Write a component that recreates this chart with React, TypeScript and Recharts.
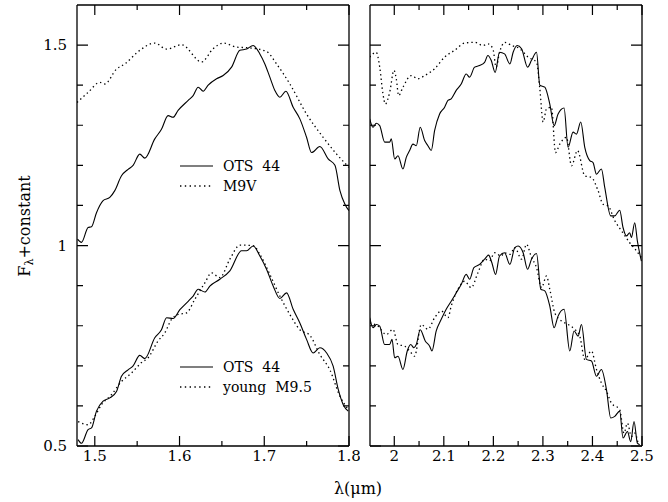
import React from "react";
import { LineChart, Line, XAxis, YAxis } from "recharts";

// H band, OTS 44 (upper copy) and M9V
const hTopOtsWave = [1.4796, 1.4843, 1.4921, 1.4961, 1.502, 1.5098, 1.5177, 1.5236, 1.5315, 1.5393, 1.5452, 1.5531, 1.559, 1.5708, 1.5787, 1.5865, 1.5924, 1.5983, 1.6102, 1.6161, 1.622, 1.6279, 1.6338, 1.6437, 1.6515, 1.6614, 1.6712, 1.6791, 1.6869, 1.6948, 1.7007, 1.7066, 1.7125, 1.7184, 1.7255, 1.7341, 1.742, 1.7499, 1.7558, 1.7656, 1.7754, 1.7834, 1.7893, 1.7952, 1.7999];
const hTopOtsFlux = [1.016, 1.008, 1.045, 1.047, 1.082, 1.112, 1.12, 1.137, 1.174, 1.19, 1.2, 1.228, 1.218, 1.266, 1.29, 1.324, 1.32, 1.337, 1.362, 1.374, 1.395, 1.385, 1.4, 1.416, 1.424, 1.445, 1.487, 1.49, 1.499, 1.478, 1.453, 1.42, 1.387, 1.37, 1.385, 1.345, 1.316, 1.27, 1.232, 1.247, 1.216, 1.2, 1.137, 1.103, 1.087];
const hM9vWave = [1.479, 1.4921, 1.5059, 1.5118, 1.5256, 1.5354, 1.5531, 1.5708, 1.5847, 1.6024, 1.626, 1.6397, 1.6515, 1.6673, 1.683, 1.7027, 1.7145, 1.7302, 1.7499, 1.7695, 1.7854, 1.7999];
const hM9vFlux = [1.357, 1.382, 1.407, 1.403, 1.44, 1.453, 1.487, 1.505, 1.49, 1.501, 1.458, 1.491, 1.505, 1.495, 1.493, 1.484, 1.453, 1.403, 1.328, 1.27, 1.228, 1.195];

// H band, OTS 44 (lower copy) and young M9.5
const hLowOtsWave = [1.4803, 1.4843, 1.4921, 1.4961, 1.502, 1.5098, 1.5177, 1.5256, 1.5315, 1.5393, 1.5452, 1.5531, 1.559, 1.5708, 1.5787, 1.5847, 1.5924, 1.6004, 1.6102, 1.6161, 1.622, 1.6299, 1.6358, 1.6476, 1.6594, 1.6732, 1.6791, 1.6869, 1.6948, 1.7027, 1.7105, 1.7184, 1.7263, 1.7341, 1.742, 1.7499, 1.7577, 1.7656, 1.7736, 1.7813, 1.7873, 1.7932, 1.7991];
const hLowOtsFlux = [0.516, 0.507, 0.541, 0.545, 0.587, 0.612, 0.62, 0.636, 0.674, 0.69, 0.7, 0.726, 0.718, 0.77, 0.79, 0.82, 0.818, 0.84, 0.861, 0.874, 0.891, 0.884, 0.899, 0.916, 0.937, 0.987, 0.987, 0.999, 0.974, 0.941, 0.899, 0.868, 0.882, 0.841, 0.807, 0.766, 0.732, 0.745, 0.732, 0.699, 0.641, 0.603, 0.587];
const hYoungWave = [1.4803, 1.4921, 1.5, 1.5079, 1.5197, 1.5315, 1.5433, 1.5551, 1.5629, 1.5747, 1.5826, 1.5906, 1.5983, 1.6083, 1.6181, 1.6299, 1.6378, 1.6476, 1.6594, 1.6712, 1.6869, 1.6948, 1.7066, 1.7184, 1.7302, 1.742, 1.7538, 1.7656, 1.7774, 1.7893, 1.7991];
const hYoungFlux = [0.561, 0.553, 0.574, 0.603, 0.628, 0.661, 0.682, 0.708, 0.72, 0.762, 0.782, 0.816, 0.828, 0.832, 0.866, 0.907, 0.932, 0.92, 0.966, 1.001, 1.0, 0.978, 0.928, 0.874, 0.828, 0.79, 0.776, 0.728, 0.69, 0.624, 0.591];

// K band, OTS 44 (upper copy) and M9V
const kTopOtsWave = [1.9504, 1.9571, 1.9637, 1.9706, 1.9806, 1.9907, 1.994, 2.0008, 2.0075, 2.0175, 2.0242, 2.031, 2.0377, 2.0444, 2.0524, 2.0613, 2.0679, 2.0746, 2.0815, 2.0915, 2.1016, 2.1083, 2.1149, 2.125, 2.1351, 2.1452, 2.152, 2.1621, 2.1722, 2.1823, 2.1889, 2.1956, 2.2036, 2.2125, 2.2226, 2.2333, 2.2399, 2.248, 2.2569, 2.269, 2.277, 2.2871, 2.2938, 2.3038, 2.3139, 2.3226, 2.3306, 2.3427, 2.3508, 2.3609, 2.3677, 2.3764, 2.3845, 2.3946, 2.4012, 2.4081, 2.4181, 2.4248, 2.4369, 2.445, 2.455, 2.4617, 2.4685, 2.4752, 2.4786, 2.4853, 2.4907, 2.4988];
const kTopOtsFlux = [1.316, 1.295, 1.305, 1.299, 1.258, 1.258, 1.266, 1.216, 1.224, 1.191, 1.22, 1.237, 1.253, 1.249, 1.295, 1.262, 1.249, 1.237, 1.287, 1.328, 1.345, 1.362, 1.366, 1.387, 1.403, 1.428, 1.42, 1.445, 1.449, 1.457, 1.474, 1.462, 1.432, 1.482, 1.478, 1.453, 1.482, 1.499, 1.491, 1.445, 1.462, 1.482, 1.4, 1.395, 1.353, 1.299, 1.328, 1.343, 1.245, 1.283, 1.278, 1.308, 1.245, 1.212, 1.207, 1.178, 1.191, 1.145, 1.074, 1.074, 1.088, 1.045, 1.024, 1.032, 1.02, 1.057, 1.011, 0.961];
const kM9vWave = [1.9504, 1.9637, 1.9706, 1.9772, 1.9819, 1.9907, 1.9994, 2.004, 2.0089, 2.0175, 2.0343, 2.0478, 2.0613, 2.0815, 2.1016, 2.1218, 2.1419, 2.1621, 2.1788, 2.1889, 2.199, 2.2056, 2.2125, 2.2232, 2.2367, 2.2534, 2.2702, 2.2871, 2.2938, 2.3004, 2.3073, 2.3173, 2.3254, 2.3341, 2.3476, 2.3577, 2.3698, 2.3845, 2.398, 2.4113, 2.4214, 2.4315, 2.445, 2.4585, 2.4752, 2.4887, 2.4988];
const kM9vFlux = [1.47, 1.482, 1.445, 1.378, 1.353, 1.382, 1.437, 1.416, 1.374, 1.395, 1.424, 1.416, 1.424, 1.441, 1.47, 1.487, 1.505, 1.507, 1.499, 1.503, 1.491, 1.445, 1.482, 1.507, 1.499, 1.491, 1.47, 1.457, 1.391, 1.308, 1.341, 1.345, 1.232, 1.253, 1.27, 1.199, 1.237, 1.174, 1.17, 1.137, 1.103, 1.099, 1.062, 1.037, 1.007, 0.987, 0.97];

// K band, OTS 44 (lower copy) and young M9.5
const kLowOtsWave = [1.9504, 1.9571, 1.9637, 1.9706, 1.9806, 1.9907, 1.9954, 2.0008, 2.0075, 2.0175, 2.0262, 2.0331, 2.0397, 2.0444, 2.0524, 2.0625, 2.0714, 2.076, 2.0847, 2.0948, 2.1048, 2.1149, 2.125, 2.1351, 2.1452, 2.152, 2.1607, 2.1722, 2.1823, 2.1903, 2.197, 2.2044, 2.2125, 2.2226, 2.2333, 2.2433, 2.25, 2.2601, 2.269, 2.277, 2.2871, 2.2958, 2.3038, 2.3139, 2.3226, 2.3306, 2.3427, 2.3542, 2.3629, 2.371, 2.3778, 2.3879, 2.398, 2.4081, 2.4181, 2.4282, 2.4369, 2.445, 2.455, 2.4617, 2.4706, 2.4772, 2.4839, 2.4907, 2.4954];
const kLowOtsFlux = [0.82, 0.795, 0.803, 0.799, 0.753, 0.753, 0.766, 0.72, 0.724, 0.691, 0.737, 0.753, 0.745, 0.753, 0.79, 0.762, 0.749, 0.737, 0.787, 0.816, 0.841, 0.861, 0.882, 0.903, 0.928, 0.916, 0.945, 0.953, 0.966, 0.976, 0.957, 0.928, 0.974, 0.982, 0.953, 0.995, 0.999, 0.982, 0.941, 0.966, 0.98, 0.891, 0.887, 0.849, 0.795, 0.824, 0.841, 0.737, 0.787, 0.774, 0.803, 0.716, 0.712, 0.674, 0.691, 0.641, 0.57, 0.574, 0.587, 0.52, 0.536, 0.511, 0.561, 0.507, 0.503];
const kYoungWave = [1.9504, 1.9671, 1.9839, 1.9974, 2.0075, 2.021, 2.031, 2.0411, 2.0544, 2.0679, 2.0815, 2.0948, 2.1083, 2.1149, 2.1284, 2.1419, 2.1552, 2.1688, 2.1823, 2.1923, 2.2024, 2.2157, 2.2226, 2.2333, 2.2433, 2.2569, 2.2669, 2.277, 2.2871, 2.2972, 2.3073, 2.3139, 2.324, 2.3375, 2.3508, 2.3643, 2.3744, 2.3845, 2.398, 2.4081, 2.4181, 2.4282, 2.4383, 2.455, 2.4637, 2.4706, 2.4786, 2.4853, 2.492];
const kYoungFlux = [0.807, 0.799, 0.778, 0.791, 0.753, 0.749, 0.737, 0.724, 0.803, 0.791, 0.82, 0.837, 0.82, 0.849, 0.891, 0.911, 0.895, 0.932, 0.966, 0.962, 0.982, 0.974, 0.982, 0.978, 0.995, 0.966, 1.003, 0.97, 0.945, 0.895, 0.924, 0.891, 0.832, 0.812, 0.803, 0.791, 0.774, 0.716, 0.737, 0.691, 0.657, 0.637, 0.607, 0.591, 0.532, 0.557, 0.524, 0.532, 0.507];

const hMajor = [1.5, 1.6, 1.7, 1.8];
const hMinor = [1.55, 1.65, 1.75];
const kMajor = [2, 2.1, 2.2, 2.3, 2.4, 2.5];
const kMinor = [2.05, 2.15, 2.25, 2.35, 2.45];
const fluxMajor = [0.5, 1, 1.5];
const fluxMinor = [0.6, 0.7, 0.8, 0.9, 1.1, 1.2, 1.3, 1.4];
const fluxDomain: [number, number] = [0.5, 1.6];
const hDomain: [number, number] = [1.479, 1.8];
const kDomain: [number, number] = [1.951, 2.5];

const FONT = "'DejaVu Serif', serif";
const INK = "#000";

// plot boxes, in page pixels, that the chart margins below produce
const hBox = { left: 77, right: 349, top: 5, bottom: 446 };
const kBox = { left: 370, right: 642, top: 5, bottom: 446 };

const pts = (w: number[], f: number[]) => w.map((x, i) => ({ x, y: f[i] }));

function BottomLabel({ x, y, payload }: any) {
  return (
    <text x={x} y={y + 15} textAnchor="middle" fontFamily={FONT} fontSize={15} fill={INK}>
      {String(payload.value)}
    </text>
  );
}

function LeftLabel({ x, y, payload }: any) {
  return (
    <text x={x - 10} y={y + 5} textAnchor="end" fontFamily={FONT} fontSize={15} fill={INK}>
      {String(payload.value)}
    </text>
  );
}

const frame = { stroke: INK, strokeWidth: 1.3 };

type PanelProps = {
  domain: [number, number];
  major: number[];
  yLabels: boolean;
  width: number;
  margin: { top: number; right: number; bottom: number; left: number };
  series: { data: { x: number; y: number }[]; dotted: boolean }[];
};

function Panel({ domain, major, yLabels, width, margin, series }: PanelProps) {
  return (
    <LineChart width={width} height={470} margin={margin}>
      <XAxis
        xAxisId="b"
        dataKey="x"
        type="number"
        domain={domain}
        ticks={major}
        interval={0}
        allowDataOverflow
        height={24}
        tickSize={0}
        tickMargin={0}
        tickLine={false}
        axisLine={frame}
        tick={<BottomLabel />}
      />
      <XAxis xAxisId="t" orientation="top" dataKey="x" type="number" domain={domain} allowDataOverflow height={1} tick={false} tickLine={false} axisLine={frame} />
      <YAxis
        yAxisId="l"
        type="number"
        domain={fluxDomain}
        ticks={fluxMajor}
        interval={0}
        allowDataOverflow
        width={yLabels ? 77 : 1}
        tickSize={0}
        tickMargin={0}
        tickLine={false}
        axisLine={frame}
        tick={yLabels ? <LeftLabel /> : false}
      />
      <YAxis yAxisId="r" orientation="right" type="number" domain={fluxDomain} allowDataOverflow width={1} tick={false} tickLine={false} axisLine={frame} />
      {series.map((s, i) => (
        <Line
          key={i}
          xAxisId="b"
          yAxisId="l"
          data={s.data}
          dataKey="y"
          type="monotone"
          stroke={INK}
          strokeWidth={s.dotted ? 1.3 : 1.1}
          strokeDasharray={s.dotted ? "1.4 3" : undefined}
          dot={false}
          activeDot={false}
          isAnimationActive={false}
        />
      ))}
    </LineChart>
  );
}

// inward tick marks on all four sides of a panel frame
function FrameTicks({ box, domain, major, minor }: { box: typeof hBox; domain: [number, number]; major: number[]; minor: number[] }) {
  const sx = (v: number) => box.left + ((v - domain[0]) / (domain[1] - domain[0])) * (box.right - box.left);
  const sy = (v: number) => box.bottom - ((v - fluxDomain[0]) / (fluxDomain[1] - fluxDomain[0])) * (box.bottom - box.top);
  const d: string[] = [];
  const xt = (v: number, len: number) => {
    const x = sx(v);
    d.push(`M${x},${box.bottom}V${box.bottom - len}`, `M${x},${box.top}V${box.top + len}`);
  };
  const yt = (v: number, len: number) => {
    const y = sy(v);
    d.push(`M${box.left},${y}H${box.left + len}`, `M${box.right},${y}H${box.right - len}`);
  };
  major.forEach((v) => xt(v, 10));
  minor.forEach((v) => xt(v, 5));
  fluxMajor.forEach((v) => yt(v, 11));
  fluxMinor.forEach((v) => yt(v, 6));
  return <path d={d.join("")} stroke={INK} strokeWidth={1.2} fill="none" />;
}

function LegendRow({ y, dotted, label }: { y: number; dotted: boolean; label: string }) {
  return (
    <g>
      <line x1={180} x2={213} y1={y} y2={y} stroke={INK} strokeWidth={dotted ? 1.3 : 1.1} strokeDasharray={dotted ? "1.4 3.4" : undefined} />
      <text x={223} y={y + 5} fontFamily={FONT} fontSize={14} fill={INK} style={{ whiteSpace: "pre" }}>
        {label}
      </text>
    </g>
  );
}

export default function App() {
  return (
    <div style={{ position: "absolute", left: 0, top: 0, width: 668, height: 502, background: "#fff" }}>
      <div style={{ position: "absolute", left: 0, top: 0 }}>
        <Panel
          domain={hDomain}
          major={hMajor}
          yLabels
          width={360}
          margin={{ top: 4, right: 10, bottom: 0, left: 0 }}
          series={[
            { data: pts(hTopOtsWave, hTopOtsFlux), dotted: false },
            { data: pts(hM9vWave, hM9vFlux), dotted: true },
            { data: pts(hLowOtsWave, hLowOtsFlux), dotted: false },
            { data: pts(hYoungWave, hYoungFlux), dotted: true },
          ]}
        />
      </div>
      <div style={{ position: "absolute", left: 362, top: 0 }}>
        <Panel
          domain={kDomain}
          major={kMajor}
          yLabels={false}
          width={300}
          margin={{ top: 4, right: 19, bottom: 0, left: 7 }}
          series={[
            { data: pts(kTopOtsWave, kTopOtsFlux), dotted: false },
            { data: pts(kM9vWave, kM9vFlux), dotted: true },
            { data: pts(kLowOtsWave, kLowOtsFlux), dotted: false },
            { data: pts(kYoungWave, kYoungFlux), dotted: true },
          ]}
        />
      </div>
      <svg width={668} height={502} style={{ position: "absolute", left: 0, top: 0, pointerEvents: "none" }}>
        <FrameTicks box={hBox} domain={hDomain} major={hMajor} minor={hMinor} />
        <FrameTicks box={kBox} domain={kDomain} major={kMajor} minor={kMinor} />
        <LegendRow y={166} dotted={false} label="OTS  44" />
        <LegendRow y={186} dotted label="M9V" />
        <LegendRow y={367} dotted={false} label="OTS  44" />
        <LegendRow y={387} dotted label="young  M9.5" />
        <text
          x={24}
          y={226}
          transform="rotate(-90 24 226)"
          textAnchor="middle"
          dominantBaseline="central"
          fontFamily={FONT}
          fontSize={16}
          fill={INK}
        >
          F
          <tspan dy={5} fontSize={11}>λ</tspan>
          <tspan dy={-5}>+constant</tspan>
        </text>
        <text x={358} y={494} textAnchor="middle" fontFamily={FONT} fontSize={16} fill={INK}>
          λ(μm)
        </text>
      </svg>
    </div>
  );
}
